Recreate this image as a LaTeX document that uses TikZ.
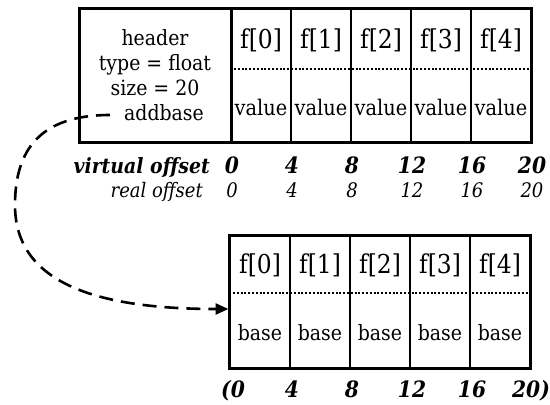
\documentclass[tikz,border=0pt]{standalone}
\usepackage{fontspec}
\setmainfont{DejaVu Serif Condensed}
\usetikzlibrary{arrows.meta}
\begin{document}
\begin{tikzpicture}[x=1pt,y=-1pt,
  outer/.style={line width=3.2pt},
  cellnode/.style={draw, line width=1.6pt, minimum width=60pt, minimum height=#1, inner sep=0pt},
  sep/.style={line width=1.3pt, dash pattern=on 2pt off 1.8pt},
  lbl/.style={font=\fontsize{21}{25}\selectfont, anchor=base, inner sep=0pt},
  idx/.style={font=\fontsize{26}{25}\selectfont, anchor=base, inner sep=0pt},
  val/.style={font=\fontsize{21.5}{25}\selectfont, anchor=base, inner sep=0pt},
  voff/.style={font=\fontsize{21}{25}\selectfont\bfseries\itshape, anchor=base, inner sep=0pt},
  vnum/.style={font=\fontsize{22.5}{25}\selectfont\bfseries\itshape, anchor=base, inner sep=0pt},
  roff/.style={font=\fontsize{20}{20}\selectfont\itshape, anchor=base, inner sep=0pt},
  link/.style={line width=2.6pt, dash pattern=on 14pt off 8pt,
    -{Triangle[length=13pt,width=11pt]}}
]
\useasboundingbox (0,0) rectangle (550,405);

% ---- upper array: header block followed by five value cells ----
\node[minimum width=151pt, minimum height=133pt, inner sep=0pt] (hdr) at (155.5,75.5) {};
\foreach \i in {0,...,4}
  \node[cellnode=133pt] (c\i) at ({261+60*\i},75.5) {};
\draw[outer] (hdr.north west) rectangle (c4.south east);
\draw[outer] (hdr.north east) -- (hdr.south east);
\draw[sep] (c0.west |- 0,69) -- (c4.east |- 0,69);

\node[lbl] (h1) at (155,45) {header};
\node[lbl] (h2) at (155,70) {type = float};
\node[lbl] (h3) at (155,95) {size = 20};
\node[lbl] (h4) at (164,120) {addbase};

\foreach \i in {0,...,4} {
  \node[idx] (tf\i) at ({261+60*\i},48) {f[\i]};
  \node[val] (tv\i) at ({261+60*\i},115) {value};
}

% ---- offsets of the upper array ----
\node[voff, anchor=base east] (vlab) at (210,173) {virtual offset};
\node[roff, anchor=base east] (rlab) at (203,197) {real offset};
\foreach \v [count=\k from 0] in {0,4,8,12,16,20} {
  \node[vnum] (vo\k) at ({232+60*\k},173) {\v};
  \node[roff] (ro\k) at ({232+60*\k},197) {\v};
}

% ---- lower array: five base cells ----
\foreach \i in {0,...,4}
  \node[cellnode=132pt] (b\i) at ({260+60*\i},302) {};
\draw[outer] (b0.north west) rectangle (b4.south east);
\draw[sep] (b0.west |- 0,293) -- (b4.east |- 0,293);
\foreach \i in {0,...,4} {
  \node[idx] (bf\i) at ({260+60*\i},273) {f[\i]};
  \node[lbl] (bb\i) at ({260+60*\i},340) {base};
}

% ---- offsets of the lower array ----
\node[vnum] (lo0) at (233,397) {(0};
\foreach \v [count=\k from 1] in {4,8,12,16}
  \node[vnum] (lo\k) at ({232+60*\k},397) {\v};
\node[vnum] (lo5) at (531,397) {20)};

% ---- addbase link into the lower array ----
\coordinate (src) at (110,115);
\coordinate (dst) at (228.5,309);
\draw[link] (src) .. controls (40,115) and (15,150) .. (15,205)
  .. controls (15,280) and (90,309) .. (dst);
\end{tikzpicture}
\end{document}
